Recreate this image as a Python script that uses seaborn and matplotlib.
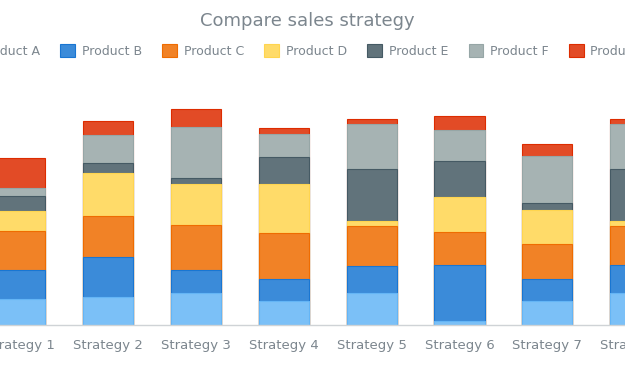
import matplotlib
matplotlib.use("Agg")
import matplotlib.pyplot as plt
import seaborn as sns
import pandas as pd
import numpy as np
from matplotlib.patches import Patch

strategies = ["Strategy 1", "Strategy 2", "Strategy 3", "Strategy 4",
              "Strategy 5", "Strategy 6", "Strategy 7", "Strategy 8"]
products = ["Product A", "Product B", "Product C", "Product D",
            "Product E", "Product F", "Product G"]

# sales per product
product_a = [26, 28, 32, 24, 32, 4, 24, 32]
product_b = [29, 40, 23, 22, 27, 56, 22, 28]
product_c = [39, 41, 45, 46, 40, 33, 35, 39]
product_d = [20, 43, 41, 49, 5, 35, 34, 5]
product_e = [15, 10, 6, 27, 52, 36, 7, 52]
product_f = [8, 28, 51, 23, 45, 31, 47, 45]
product_g = [30, 14, 18, 6, 5, 14, 12, 5]

fills = ["#7bc0f7", "#3b8bd9", "#f18226", "#ffdb69", "#61737b", "#a6b3b3", "#e24b26"]
edges = ["#64b5f6", "#1976d2", "#ef6c00", "#ffd54f", "#455a64", "#96a6a6", "#dd2c00"]
text_grey = "#7c868e"
axis_grey = "#cfd3d6"

df = pd.DataFrame({"Strategy": strategies})
series = [product_a, product_b, product_c, product_d, product_e, product_f, product_g]
for name, vals in zip(products, series):
    df[name] = vals

# cumulative totals so the stacks can be drawn top down
cum = df[products].cumsum(axis=1)

sns.set_style("white")
fig = plt.figure(figsize=(6.25, 3.75), dpi=100)
# the view is cropped: the axes run past both figure edges
ax = fig.add_axes([-23.95 / 625, 50 / 375, 703.2 / 625, 225 / 375])

for i in range(len(products) - 1, -1, -1):
    sns.barplot(x=df["Strategy"], y=cum[products[i]], color=fills[i], width=0.57,
                edgecolor=edges[i], linewidth=0.8, saturation=1, ax=ax)

ax.set_xlabel("")
ax.set_ylabel("")
ax.set_yticks([])
for s in ["top", "left", "right"]:
    ax.spines[s].set_visible(False)
ax.spines["bottom"].set_color(axis_grey)
ax.spines["bottom"].set_linewidth(1)

# tick marks sit between the categories
ax.set_xticks(np.arange(len(strategies) - 1) + 0.5, minor=True)
ax.tick_params(axis="x", which="major", length=0, pad=10, labelsize=9.5, labelcolor=text_grey)
ax.tick_params(axis="x", which="minor", length=6, width=1, color=axis_grey, direction="out")

ax.set_xlim(-0.5, len(strategies) - 0.5)
ax.set_ylim(0, 225)

fig.text(0.492, 1 - 21 / 375, "Compare sales strategy", ha="center", va="center",
         fontsize=13, color=text_grey)

handles = [Patch(facecolor=f, edgecolor=e, linewidth=0.8) for f, e in zip(fills, edges)]
fig.legend(handles, products, loc="center", bbox_to_anchor=(0.488, 1 - 51 / 375), ncol=7,
           frameon=False, fontsize=9, labelcolor=text_grey, handlelength=1.15,
           handleheight=1.15, handletextpad=0.55, columnspacing=1.65)

fig.savefig("out.png", dpi=100)
